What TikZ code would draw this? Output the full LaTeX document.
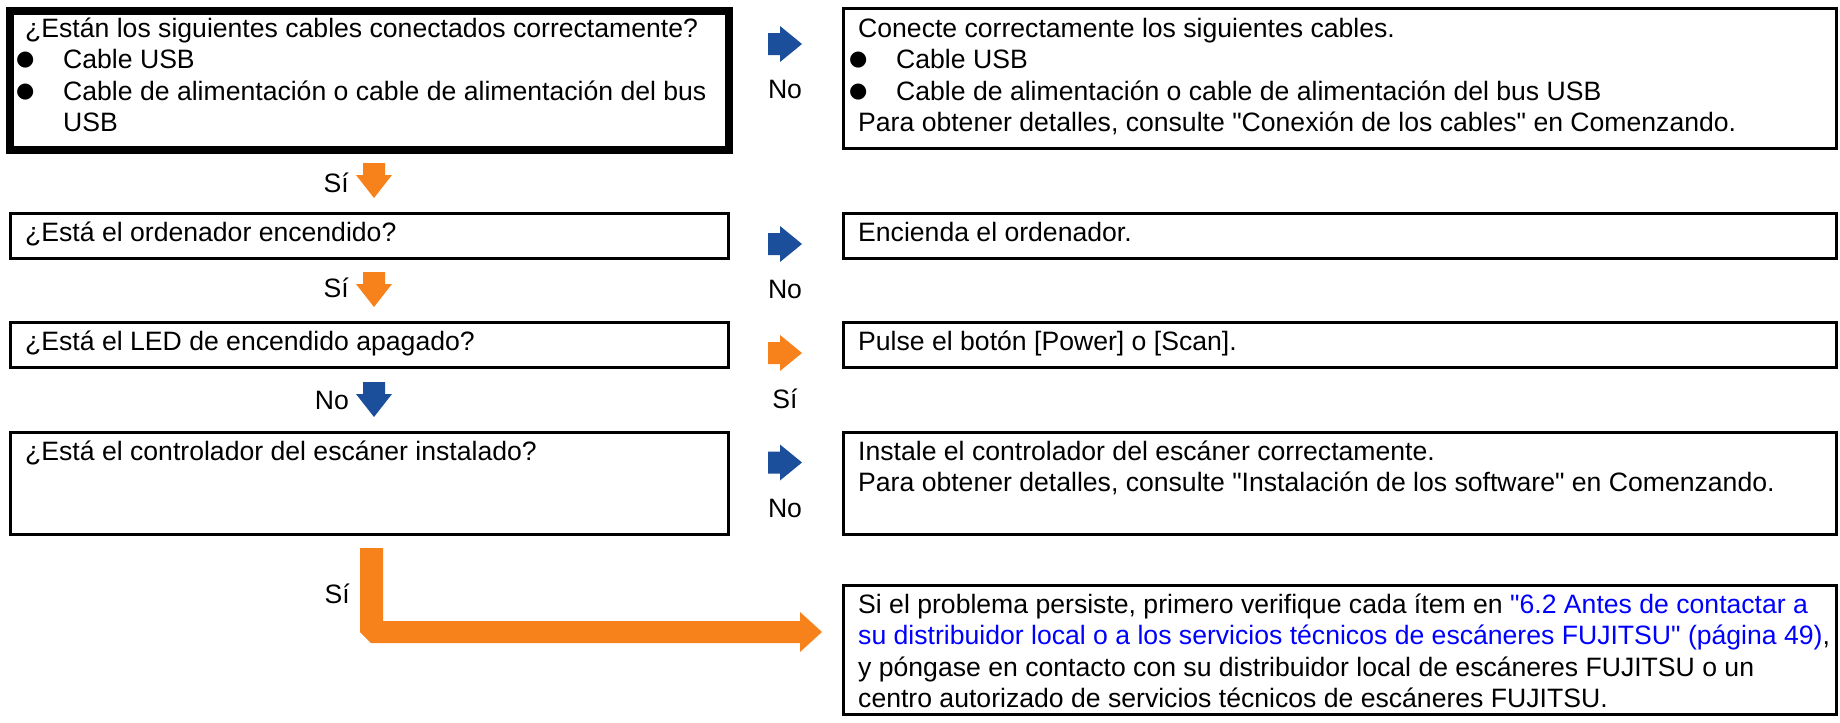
\documentclass[tikz,border=0pt]{standalone}
\usepackage{fontspec}
\setmainfont{Liberation Sans}[Ligatures=TeXOff]
\newfontfamily\symfont{DejaVu Sans}
\definecolor{arrblue}{RGB}{27,79,155}
\definecolor{arrorange}{RGB}{247,130,27}
\definecolor{linkblue}{RGB}{0,0,255}
\newcommand{\bul}{\makebox[0pt][l]{\hspace*{-9pt}\raisebox{3pt}{\fontsize{21}{21}\symfont ●}}\hspace*{38pt}}
\newcommand{\ind}{\hspace*{38pt}}
\begin{document}
\begin{tikzpicture}[x=1pt,y=-1pt,
  box/.style={draw, line width=3pt, anchor=north west, inner sep=0pt, outer sep=0pt},
  thickbox/.style={box, line width=8pt},
  txt/.style={anchor=base west, inner sep=0pt, font=\fontsize{26.6}{31.5}\selectfont},
  lbl/.style={inner sep=0pt, font=\fontsize{26.6}{31.5}\selectfont},
  rarrow/.pic={\fill (0,-11) -- (12,-11) -- (12,-18) -- (34,0) -- (12,18) -- (12,11) -- (0,11) -- cycle;},
  darrow/.pic={\fill (-11,0) -- (11,0) -- (11,12) -- (18,12) -- (0,35) -- (-18,12) -- (-11,12) -- cycle;}
]
\useasboundingbox (0,0) rectangle (1840,723);

% boxes
\node[thickbox, minimum width=719pt, minimum height=139pt] (q1) at (10,11) {};
\node[box, minimum width=993pt, minimum height=140.5pt] (a1) at (843,8) {};
\node[box, minimum width=718pt, minimum height=45pt] (q2) at (10,213.5) {};
\node[box, minimum width=993pt, minimum height=45pt] (a2) at (843,213.5) {};
\node[box, minimum width=718pt, minimum height=45pt] (q3) at (10,322.5) {};
\node[box, minimum width=993pt, minimum height=45pt] (a3) at (843,322.5) {};
\node[box, minimum width=718pt, minimum height=102pt] (q4) at (10,432.5) {};
\node[box, minimum width=993pt, minimum height=102pt] (a4) at (843,432.5) {};
\node[box, minimum width=993pt, minimum height=129pt] (a5) at (843,585.5) {};

% texts
\node[txt] (q1t) at (25,37) {\parbox[t]{760pt}{¿Están los siguientes cables conectados correctamente?\\
\bul Cable USB\\
\bul Cable de alimentación o cable de alimentación del bus\\
\ind USB}};
\node[txt] (a1t) at (858,37) {\parbox[t]{1000pt}{Conecte correctamente los siguientes cables.\\
\bul Cable USB\\
\bul Cable de alimentación o cable de alimentación del bus USB\\
Para obtener detalles, consulte "Conexión de los cables" en Comenzando.}};
\node[txt] (q2t) at (25,241) {¿Está el ordenador encendido?};
\node[txt] (a2t) at (858,241) {Encienda el ordenador.};
\node[txt] (q3t) at (25,350) {¿Está el LED de encendido apagado?};
\node[txt] (a3t) at (858,350) {Pulse el botón [Power] o [Scan].};
\node[txt] (q4t) at (25,460) {¿Está el controlador del escáner instalado?};
\node[txt] (a4t) at (858,460) {\parbox[t]{1000pt}{Instale el controlador del escáner correctamente.\\
Para obtener detalles, consulte "Instalación de los software" en Comenzando.}};
\node[txt] (a5t) at (858,613) {\parbox[t]{1000pt}{Si el problema persiste, primero verifique cada ítem en {\color{linkblue}"6.2 Antes de contactar a}\\
{\color{linkblue}su distribuidor local o a los servicios técnicos de escáneres FUJITSU" (página 49)},\\
y póngase en contacto con su distribuidor local de escáneres FUJITSU o un\\
centro autorizado de servicios técnicos de escáneres FUJITSU.}};

% right arrows and labels
\pic[color=arrblue] at (768,44) {rarrow};
\node[lbl, anchor=base] (l1) at (785,98) {No};
\pic[color=arrblue] at (768,244) {rarrow};
\node[lbl, anchor=base] (l2) at (785,298) {No};
\pic[color=arrorange] at (768,353) {rarrow};
\node[lbl, anchor=base] (l3) at (785,408) {Sí};
\pic[color=arrblue] at (768,462.5) {rarrow};
\node[lbl, anchor=base] (l4) at (785,517) {No};

% down arrows and labels
\pic[color=arrorange] at (374,163) {darrow};
\node[lbl, anchor=base east] (d1) at (349,192) {Sí};
\pic[color=arrorange] at (374,272) {darrow};
\node[lbl, anchor=base east] (d2) at (349,297) {Sí};
\pic[color=arrblue] at (374,382) {darrow};
\node[lbl, anchor=base east] (d3) at (349,409) {No};

% L-shaped arrow to final box
\coordinate (lstart) at (371.5,548);
\coordinate (ltip) at (822,632);
\fill[arrorange] (lstart) ++(-11.5,0) -- ++(23,0) |- (800,621) -- (800,612) -- (ltip) -- (800,652) -- (800,643) -- (371,643) -- (360,632) -- cycle;
\node[lbl, anchor=base east] (d4) at (350,603) {Sí};
\end{tikzpicture}
\end{document}
